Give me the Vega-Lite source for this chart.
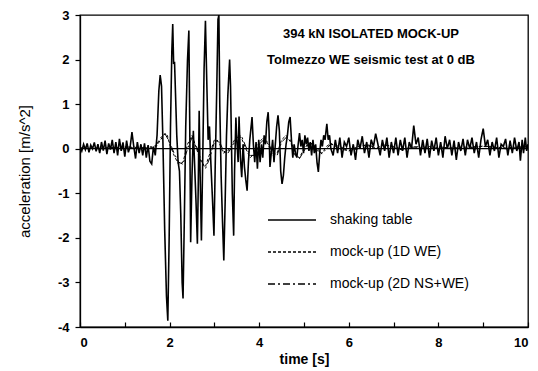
{
  "$schema": "https://vega.github.io/schema/vega-lite/v6.json",
  "width": 448,
  "height": 312,
  "autosize": {"type": "none"},
  "padding": {"left": 80, "top": 15, "right": 10, "bottom": 44},
  "background": "white",
  "config": {
    "font": "Liberation Sans",
    "view": {"stroke": "black", "strokeWidth": 1.3}
  },
  "title": {
    "text": ["394 kN ISOLATED MOCK-UP", "Tolmezzo WE seismic test at 0 dB"],
    "anchor": "middle",
    "baseline": "top",
    "font": "Liberation Sans",
    "fontSize": 13,
    "fontWeight": "bold",
    "color": "black",
    "lineHeight": 26,
    "dx": 67,
    "dy": 62
  },
  "datasets": {
    "table": [
      {"t":0.00,"a":0.05},{"t":0.04,"a":-0.05},{"t":0.08,"a":0.10},{"t":0.12,"a":-0.02},{"t":0.16,"a":0.12},
      {"t":0.20,"a":-0.08},{"t":0.24,"a":0.08},{"t":0.28,"a":0.00},{"t":0.32,"a":0.14},{"t":0.36,"a":-0.06},
      {"t":0.40,"a":0.10},{"t":0.44,"a":-0.10},{"t":0.48,"a":0.15},{"t":0.52,"a":-0.04},{"t":0.56,"a":0.18},
      {"t":0.60,"a":-0.12},{"t":0.64,"a":0.12},{"t":0.68,"a":-0.02},{"t":0.72,"a":0.20},{"t":0.76,"a":-0.10},
      {"t":0.80,"a":0.15},{"t":0.84,"a":-0.15},{"t":0.88,"a":0.22},{"t":0.92,"a":-0.05},{"t":0.96,"a":0.14},
      {"t":1.00,"a":-0.18},{"t":1.04,"a":0.18},{"t":1.08,"a":-0.08},{"t":1.12,"a":0.05},{"t":1.16,"a":0.37},
      {"t":1.20,"a":0.05},{"t":1.24,"a":-0.22},{"t":1.28,"a":0.15},{"t":1.32,"a":-0.10},{"t":1.36,"a":0.10},
      {"t":1.40,"a":-0.15},{"t":1.44,"a":0.12},{"t":1.48,"a":-0.20},{"t":1.52,"a":0.08},{"t":1.56,"a":-0.28},
      {"t":1.60,"a":-0.34},{"t":1.64,"a":0.05},{"t":1.68,"a":-0.15},{"t":1.72,"a":0.30},{"t":1.76,"a":1.30},
      {"t":1.79,"a":1.65},{"t":1.82,"a":1.40},{"t":1.85,"a":0.20},{"t":1.89,"a":-1.80},{"t":1.93,"a":-3.30},
      {"t":1.96,"a":-3.86},{"t":1.99,"a":-2.00},{"t":2.02,"a":0.50},{"t":2.05,"a":2.20},{"t":2.07,"a":2.80},
      {"t":2.09,"a":1.90},{"t":2.11,"a":1.95},{"t":2.13,"a":1.30},{"t":2.16,"a":0.30},{"t":2.19,"a":-0.30},
      {"t":2.22,"a":-0.50},{"t":2.25,"a":-1.50},{"t":2.28,"a":-3.00},{"t":2.30,"a":-3.36},{"t":2.33,"a":-1.50},
      {"t":2.36,"a":0.50},{"t":2.40,"a":2.00},{"t":2.43,"a":2.65},{"t":2.45,"a":0.50},{"t":2.47,"a":-2.10},
      {"t":2.50,"a":-0.60},{"t":2.53,"a":0.40},{"t":2.56,"a":-0.40},{"t":2.59,"a":-1.20},{"t":2.62,"a":-2.13},
      {"t":2.64,"a":-0.80},{"t":2.66,"a":0.85},{"t":2.68,"a":-0.50},{"t":2.71,"a":-2.06},{"t":2.74,"a":-0.20},
      {"t":2.77,"a":1.80},{"t":2.80,"a":2.87},{"t":2.83,"a":1.50},{"t":2.86,"a":0.20},{"t":2.89,"a":0.50},
      {"t":2.92,"a":-0.30},{"t":2.96,"a":-1.20},{"t":2.99,"a":-1.95},{"t":3.02,"a":-0.30},{"t":3.05,"a":1.20},
      {"t":3.08,"a":2.90},{"t":3.10,"a":3.00},{"t":3.12,"a":1.00},{"t":3.15,"a":-0.60},{"t":3.18,"a":-1.60},
      {"t":3.21,"a":-2.51},{"t":3.24,"a":-1.20},{"t":3.27,"a":0.30},{"t":3.30,"a":1.20},{"t":3.34,"a":2.00},
      {"t":3.36,"a":1.40},{"t":3.38,"a":0.20},{"t":3.40,"a":-1.00},{"t":3.43,"a":-1.95},{"t":3.45,"a":-0.50},
      {"t":3.48,"a":0.70},{"t":3.50,"a":0.20},{"t":3.53,"a":-0.30},{"t":3.55,"a":0.72},{"t":3.58,"a":-0.20},
      {"t":3.61,"a":-0.64},{"t":3.64,"a":0.10},{"t":3.67,"a":-0.40},{"t":3.70,"a":-0.70},{"t":3.73,"a":-0.94},
      {"t":3.76,"a":-0.30},{"t":3.79,"a":0.20},{"t":3.82,"a":0.50},{"t":3.84,"a":0.71},{"t":3.87,"a":0.10},
      {"t":3.90,"a":-0.30},{"t":3.93,"a":0.15},{"t":3.96,"a":-0.45},{"t":3.99,"a":0.20},{"t":4.02,"a":-0.30},
      {"t":4.05,"a":0.10},{"t":4.08,"a":-0.20},{"t":4.11,"a":0.30},{"t":4.14,"a":0.10},{"t":4.17,"a":0.60},
      {"t":4.20,"a":0.82},{"t":4.22,"a":0.40},{"t":4.24,"a":-0.41},{"t":4.27,"a":-0.10},{"t":4.30,"a":0.20},
      {"t":4.33,"a":-0.30},{"t":4.36,"a":0.10},{"t":4.39,"a":0.50},{"t":4.42,"a":0.75},{"t":4.45,"a":0.40},
      {"t":4.48,"a":-0.50},{"t":4.51,"a":-0.79},{"t":4.54,"a":-0.60},{"t":4.57,"a":-0.20},{"t":4.60,"a":0.10},
      {"t":4.63,"a":0.30},{"t":4.66,"a":0.60},{"t":4.69,"a":0.71},{"t":4.72,"a":0.20},{"t":4.75,"a":-0.20},
      {"t":4.78,"a":0.10},{"t":4.81,"a":-0.10},{"t":4.84,"a":-0.20},{"t":4.87,"a":0.10},{"t":4.90,"a":0.35},
      {"t":4.93,"a":0.05},{"t":4.96,"a":0.20},{"t":4.99,"a":-0.10},{"t":5.02,"a":0.30},{"t":5.05,"a":0.10},
      {"t":5.08,"a":0.25},{"t":5.11,"a":-0.05},{"t":5.14,"a":0.15},{"t":5.17,"a":-0.15},{"t":5.20,"a":0.20},
      {"t":5.23,"a":-0.10},{"t":5.26,"a":0.10},{"t":5.29,"a":-0.30},{"t":5.32,"a":-0.52},{"t":5.35,"a":-0.10},
      {"t":5.38,"a":0.20},{"t":5.41,"a":0.05},{"t":5.44,"a":0.30},{"t":5.47,"a":0.20},{"t":5.51,"a":0.56},
      {"t":5.54,"a":0.20},{"t":5.57,"a":0.30},{"t":5.60,"a":0.00},{"t":5.65,"a":-0.15},{"t":5.70,"a":0.20},
      {"t":5.75,"a":-0.10},{"t":5.80,"a":0.25},{"t":5.85,"a":-0.20},{"t":5.90,"a":0.15},{"t":5.95,"a":0.05},
      {"t":6.00,"a":0.25},{"t":6.05,"a":-0.15},{"t":6.10,"a":0.10},{"t":6.15,"a":-0.25},{"t":6.20,"a":0.20},
      {"t":6.25,"a":0.00},{"t":6.30,"a":0.28},{"t":6.35,"a":-0.10},{"t":6.40,"a":0.15},{"t":6.45,"a":-0.20},
      {"t":6.50,"a":0.20},{"t":6.55,"a":0.05},{"t":6.60,"a":0.34},{"t":6.65,"a":0.10},{"t":6.70,"a":-0.15},
      {"t":6.75,"a":0.20},{"t":6.80,"a":-0.05},{"t":6.85,"a":0.25},{"t":6.90,"a":-0.20},{"t":6.95,"a":0.15},
      {"t":7.00,"a":-0.10},{"t":7.05,"a":0.25},{"t":7.10,"a":-0.15},{"t":7.15,"a":0.20},{"t":7.20,"a":-0.05},
      {"t":7.25,"a":0.25},{"t":7.30,"a":-0.20},{"t":7.35,"a":0.15},{"t":7.40,"a":0.00},{"t":7.45,"a":0.52},
      {"t":7.50,"a":0.10},{"t":7.55,"a":0.25},{"t":7.60,"a":-0.15},{"t":7.65,"a":0.20},{"t":7.70,"a":-0.10},
      {"t":7.75,"a":0.22},{"t":7.80,"a":-0.20},{"t":7.85,"a":0.18},{"t":7.90,"a":-0.05},{"t":7.95,"a":0.25},
      {"t":8.00,"a":-0.15},{"t":8.05,"a":0.15},{"t":8.10,"a":-0.20},{"t":8.15,"a":0.28},{"t":8.20,"a":0.00},
      {"t":8.25,"a":0.20},{"t":8.30,"a":-0.15},{"t":8.35,"a":0.18},{"t":8.40,"a":-0.25},{"t":8.45,"a":0.15},
      {"t":8.50,"a":-0.05},{"t":8.55,"a":0.22},{"t":8.60,"a":-0.15},{"t":8.65,"a":0.20},{"t":8.70,"a":0.00},
      {"t":8.75,"a":0.25},{"t":8.80,"a":-0.10},{"t":8.85,"a":0.15},{"t":8.90,"a":-0.20},{"t":8.95,"a":0.20},
      {"t":9.00,"a":0.45},{"t":9.05,"a":0.05},{"t":9.10,"a":0.20},{"t":9.15,"a":-0.15},{"t":9.20,"a":0.15},
      {"t":9.25,"a":-0.05},{"t":9.30,"a":0.25},{"t":9.35,"a":-0.20},{"t":9.40,"a":0.10},{"t":9.45,"a":0.05},
      {"t":9.50,"a":0.22},{"t":9.55,"a":-0.15},{"t":9.60,"a":0.18},{"t":9.65,"a":-0.10},{"t":9.70,"a":0.25},
      {"t":9.75,"a":-0.05},{"t":9.80,"a":0.15},{"t":9.83,"a":-0.27},{"t":9.87,"a":0.20},{"t":9.90,"a":-0.10},
      {"t":9.94,"a":0.25},{"t":9.97,"a":-0.05},{"t":10.00,"a":0.10}
    ],
    "mock1d": [
      {"t":0,"a":0},{"t":0.5,"a":0.02},{"t":1.0,"a":0.03},{"t":1.5,"a":0},{"t":1.7,"a":0.05},{"t":1.8,"a":0.2},
      {"t":1.9,"a":0.35},{"t":1.95,"a":0.3},{"t":2.0,"a":0.1},{"t":2.1,"a":-0.15},{"t":2.2,"a":-0.35},{"t":2.3,"a":-0.3},
      {"t":2.4,"a":0.1},{"t":2.5,"a":0.3},{"t":2.6,"a":0},{"t":2.7,"a":-0.3},{"t":2.8,"a":-0.4},{"t":2.9,"a":-0.1},
      {"t":3.0,"a":0.2},{"t":3.1,"a":0.15},{"t":3.2,"a":-0.1},{"t":3.3,"a":-0.05},{"t":3.4,"a":0.1},{"t":3.5,"a":0.3},
      {"t":3.6,"a":0.25},{"t":3.7,"a":0},{"t":3.8,"a":-0.2},{"t":3.9,"a":-0.1},{"t":4.0,"a":0.15},{"t":4.1,"a":0.25},
      {"t":4.2,"a":0.1},{"t":4.3,"a":-0.15},{"t":4.4,"a":-0.1},{"t":4.5,"a":0.2},{"t":4.6,"a":0.3},{"t":4.7,"a":0.15},
      {"t":4.8,"a":-0.15},{"t":4.9,"a":-0.2},{"t":5.0,"a":0},{"t":5.1,"a":0.12},{"t":5.2,"a":0.1},{"t":5.3,"a":-0.05},
      {"t":5.4,"a":-0.1},{"t":5.5,"a":0.05},{"t":5.6,"a":0.12},{"t":5.8,"a":0},{"t":6.0,"a":-0.05},{"t":6.2,"a":0.05},
      {"t":6.4,"a":0.08},{"t":6.6,"a":0},{"t":6.8,"a":0.1},{"t":7.0,"a":0.03},{"t":7.2,"a":-0.03},{"t":7.4,"a":0.05},
      {"t":7.6,"a":0.02},{"t":7.8,"a":0.05},{"t":8.0,"a":0},{"t":8.5,"a":0.03},{"t":9.0,"a":0.05},{"t":9.5,"a":0.02},
      {"t":10,"a":0.05}
    ],
    "mock2d": [
      {"t":0,"a":0.02},{"t":0.5,"a":0},{"t":1.0,"a":0.04},{"t":1.5,"a":0.02},{"t":1.7,"a":0.08},{"t":1.8,"a":0.25},
      {"t":1.9,"a":0.33},{"t":2.0,"a":0.15},{"t":2.1,"a":-0.1},{"t":2.2,"a":-0.3},{"t":2.3,"a":-0.35},{"t":2.4,"a":0},
      {"t":2.5,"a":0.25},{"t":2.6,"a":0.05},{"t":2.7,"a":-0.25},{"t":2.8,"a":-0.45},{"t":2.9,"a":-0.2},{"t":3.0,"a":0.15},
      {"t":3.1,"a":0.2},{"t":3.2,"a":-0.05},{"t":3.3,"a":-0.1},{"t":3.4,"a":0.05},{"t":3.5,"a":0.25},{"t":3.6,"a":0.3},
      {"t":3.7,"a":0.05},{"t":3.8,"a":-0.15},{"t":3.9,"a":-0.15},{"t":4.0,"a":0.1},{"t":4.1,"a":0.2},{"t":4.2,"a":0.15},
      {"t":4.3,"a":-0.1},{"t":4.4,"a":-0.15},{"t":4.5,"a":0.15},{"t":4.6,"a":0.25},{"t":4.7,"a":0.2},{"t":4.8,"a":-0.1},
      {"t":4.9,"a":-0.22},{"t":5.0,"a":-0.05},{"t":5.1,"a":0.1},{"t":5.2,"a":0.12},{"t":5.3,"a":0},{"t":5.4,"a":-0.12},
      {"t":5.5,"a":0},{"t":5.6,"a":0.1},{"t":5.8,"a":0.05},{"t":6.0,"a":-0.05},{"t":6.2,"a":0},{"t":6.4,"a":0.1},
      {"t":6.6,"a":0.02},{"t":6.8,"a":0.08},{"t":7.0,"a":0.05},{"t":7.2,"a":-0.02},{"t":7.4,"a":0.03},{"t":7.6,"a":0.05},
      {"t":7.8,"a":0},{"t":8.0,"a":0.04},{"t":8.5,"a":0},{"t":9.0,"a":0.06},{"t":9.5,"a":0},{"t":10,"a":0.03}
    ]
  },
  "layer": [
    {
      "data": {"name": "mock2d"},
      "mark": {"type": "line", "color": "black", "strokeWidth": 1, "clip": true},
      "encoding": {
        "x": {"field": "t", "type": "quantitative", "scale": {"domain": [0, 10], "nice": false},
          "axis": {"values": [0,1,2,3,4,5,6,7,8,9,10], "labelExpr": "datum.value % 2 == 0 ? '' + datum.value : ''",
            "title": "time [s]", "grid": false, "domainColor": "black", "domainWidth": 1.3, "tickColor": "black", "tickWidth": 1.2,
            "tickSize": -5, "labelPadding": 14, "labelFont": "Liberation Sans", "labelFontSize": 13, "labelFontWeight": "bold",
            "labelColor": "black", "titleFont": "Liberation Sans", "titleFontSize": 14, "titleFontWeight": "bold",
            "titleColor": "black", "titlePadding": 3}},
        "y": {"field": "a", "type": "quantitative", "scale": {"domain": [-4, 3], "nice": false},
          "axis": {"values": [-4,-3,-2,-1,0,1,2,3], "labelExpr": "'' + datum.value",
            "title": "acceleration [m/s^2]", "grid": false, "domainColor": "black", "domainWidth": 1.3, "tickColor": "black", "tickWidth": 1.2,
            "tickSize": 5, "labelPadding": 6, "labelFont": "Liberation Sans", "labelFontSize": 13, "labelFontWeight": "bold",
            "labelColor": "black", "titleFont": "Liberation Sans", "titleFontSize": 15, "titleFontWeight": "normal",
            "titleColor": "black", "titlePadding": 25}},
        "strokeDash": {"datum": "mock-up (2D NS+WE)", "type": "nominal",
          "scale": {"domain": ["shaking table", "mock-up (1D WE)", "mock-up (2D NS+WE)"], "range": [[1, 0], [3, 2], [7, 3, 2, 3]]},
          "legend": {"orient": "none", "legendX": 187, "legendY": 180, "title": null, "symbolType": "stroke",
            "symbolSize": 2304, "symbolStrokeColor": "black", "symbolStrokeWidth": 1.3, "labelFont": "Liberation Sans",
            "labelFontSize": 14, "labelColor": "black", "labelOffset": 13, "rowPadding": -14, "padding": 0}}
      }
    },
    {
      "data": {"name": "mock1d"},
      "mark": {"type": "line", "color": "black", "strokeWidth": 1, "clip": true},
      "encoding": {
        "x": {"field": "t", "type": "quantitative"},
        "y": {"field": "a", "type": "quantitative"},
        "strokeDash": {"datum": "mock-up (1D WE)", "type": "nominal"}
      }
    },
    {
      "data": {"name": "table"},
      "mark": {"type": "line", "color": "black", "strokeWidth": 1.6, "clip": true},
      "encoding": {
        "x": {"field": "t", "type": "quantitative"},
        "y": {"field": "a", "type": "quantitative"},
        "strokeDash": {"datum": "shaking table", "type": "nominal"}
      }
    },
    {
      "data": {"values": [{}]},
      "mark": {"type": "rule", "color": "black", "strokeWidth": 1.3},
      "encoding": {"y": {"datum": 0, "type": "quantitative"}}
    }
  ]
}
